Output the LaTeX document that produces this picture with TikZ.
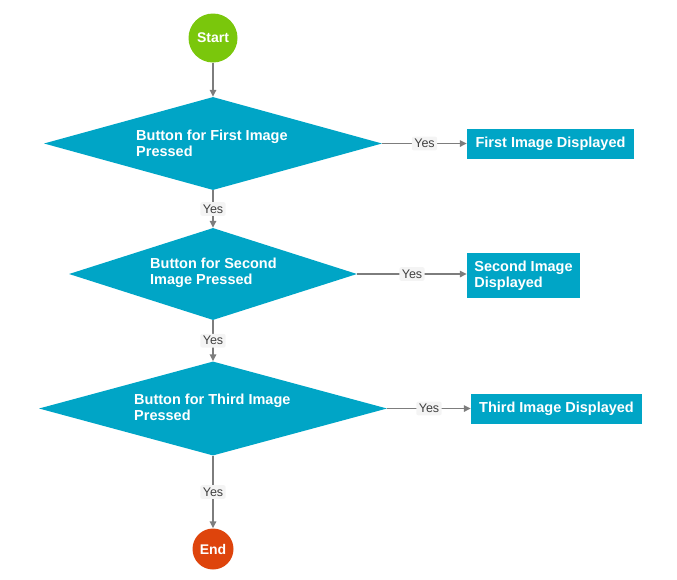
\documentclass[tikz,border=0pt]{standalone}
\usepackage{fontspec}
\setmainfont{Liberation Sans}
\usetikzlibrary{shapes.geometric,arrows.meta}
\definecolor{teal1}{RGB}{0,165,198}
\definecolor{startg}{RGB}{122,199,12}
\definecolor{endr}{RGB}{222,68,12}
\definecolor{linegray}{RGB}{125,125,125}
\definecolor{labelbg}{RGB}{244,244,244}
\tikzset{
  decision/.style={diamond, fill=teal1, inner sep=0pt, draw=none},
  dtext/.style={text=white, font=\fontsize{14.5}{16}\selectfont\bfseries, align=left, anchor=west, inner sep=0pt},
  outbox/.style={rectangle, fill=teal1, text=white, font=\fontsize{14.5}{16}\selectfont\bfseries, align=left, inner sep=0pt},
  term/.style={circle, text=white, font=\fontsize{14}{15}\selectfont\bfseries, inner sep=0pt},
  conn/.style={draw=linegray, line width=1.5pt, -{Triangle[length=7pt,width=6.5pt]}},
  yeslbl/.style={fill=labelbg, rounded corners=2pt, text=black!75, font=\fontsize{12.5}{13.5}\selectfont, inner sep=2.5pt}
}
\begin{document}
\begin{tikzpicture}[x=1pt,y=-1pt]
\useasboundingbox (0,0) rectangle (677,579);
\node[term, fill=startg, minimum size=49pt] (start) at (213,38) {Start};
\node[decision, minimum width=338pt, minimum height=93pt] (d1) at (213,143.5) {};
\node[dtext] (t1) at (136,143) {Button for First Image\\Pressed};
\node[outbox, minimum width=167pt, minimum height=30pt] (b1) at (550.5,143.5) {First Image Displayed};
\node[decision, minimum width=288pt, minimum height=92pt] (d2) at (213,274) {};
\node[dtext] (t2) at (150,273) {Button for Second\\Image Pressed};
\node[outbox, minimum width=113pt, minimum height=45pt] (b2) at (523.5,275.5) {Second Image\\Displayed};
\node[decision, minimum width=348pt, minimum height=94pt] (d3) at (213,408.5) {};
\node[dtext] (t3) at (134,407) {Button for Third Image\\Pressed};
\node[outbox, minimum width=171pt, minimum height=30pt] (b3) at (556.5,408.5) {Third Image Displayed};
\node[term, fill=endr, minimum size=41pt] (end) at (213,549) {End};
\draw[conn] (start) -- (d1.north);
\draw[conn] (d1.east) -- node[yeslbl] (y1) {Yes} (b1.west);
\draw[conn] (d1.south) -- node[yeslbl] (y2) {Yes} (d2.north);
\draw[conn] (d2.east) -- node[yeslbl] (y3) {Yes} (d2.east -| b2.west);
\draw[conn] (d2.south) -- node[yeslbl] (y4) {Yes} (d3.north);
\draw[conn] (d3.east) -- node[yeslbl] (y5) {Yes} (b3.west);
\draw[conn] (d3.south) -- node[yeslbl] (y6) {Yes} (end.north);
\end{tikzpicture}
\end{document}
